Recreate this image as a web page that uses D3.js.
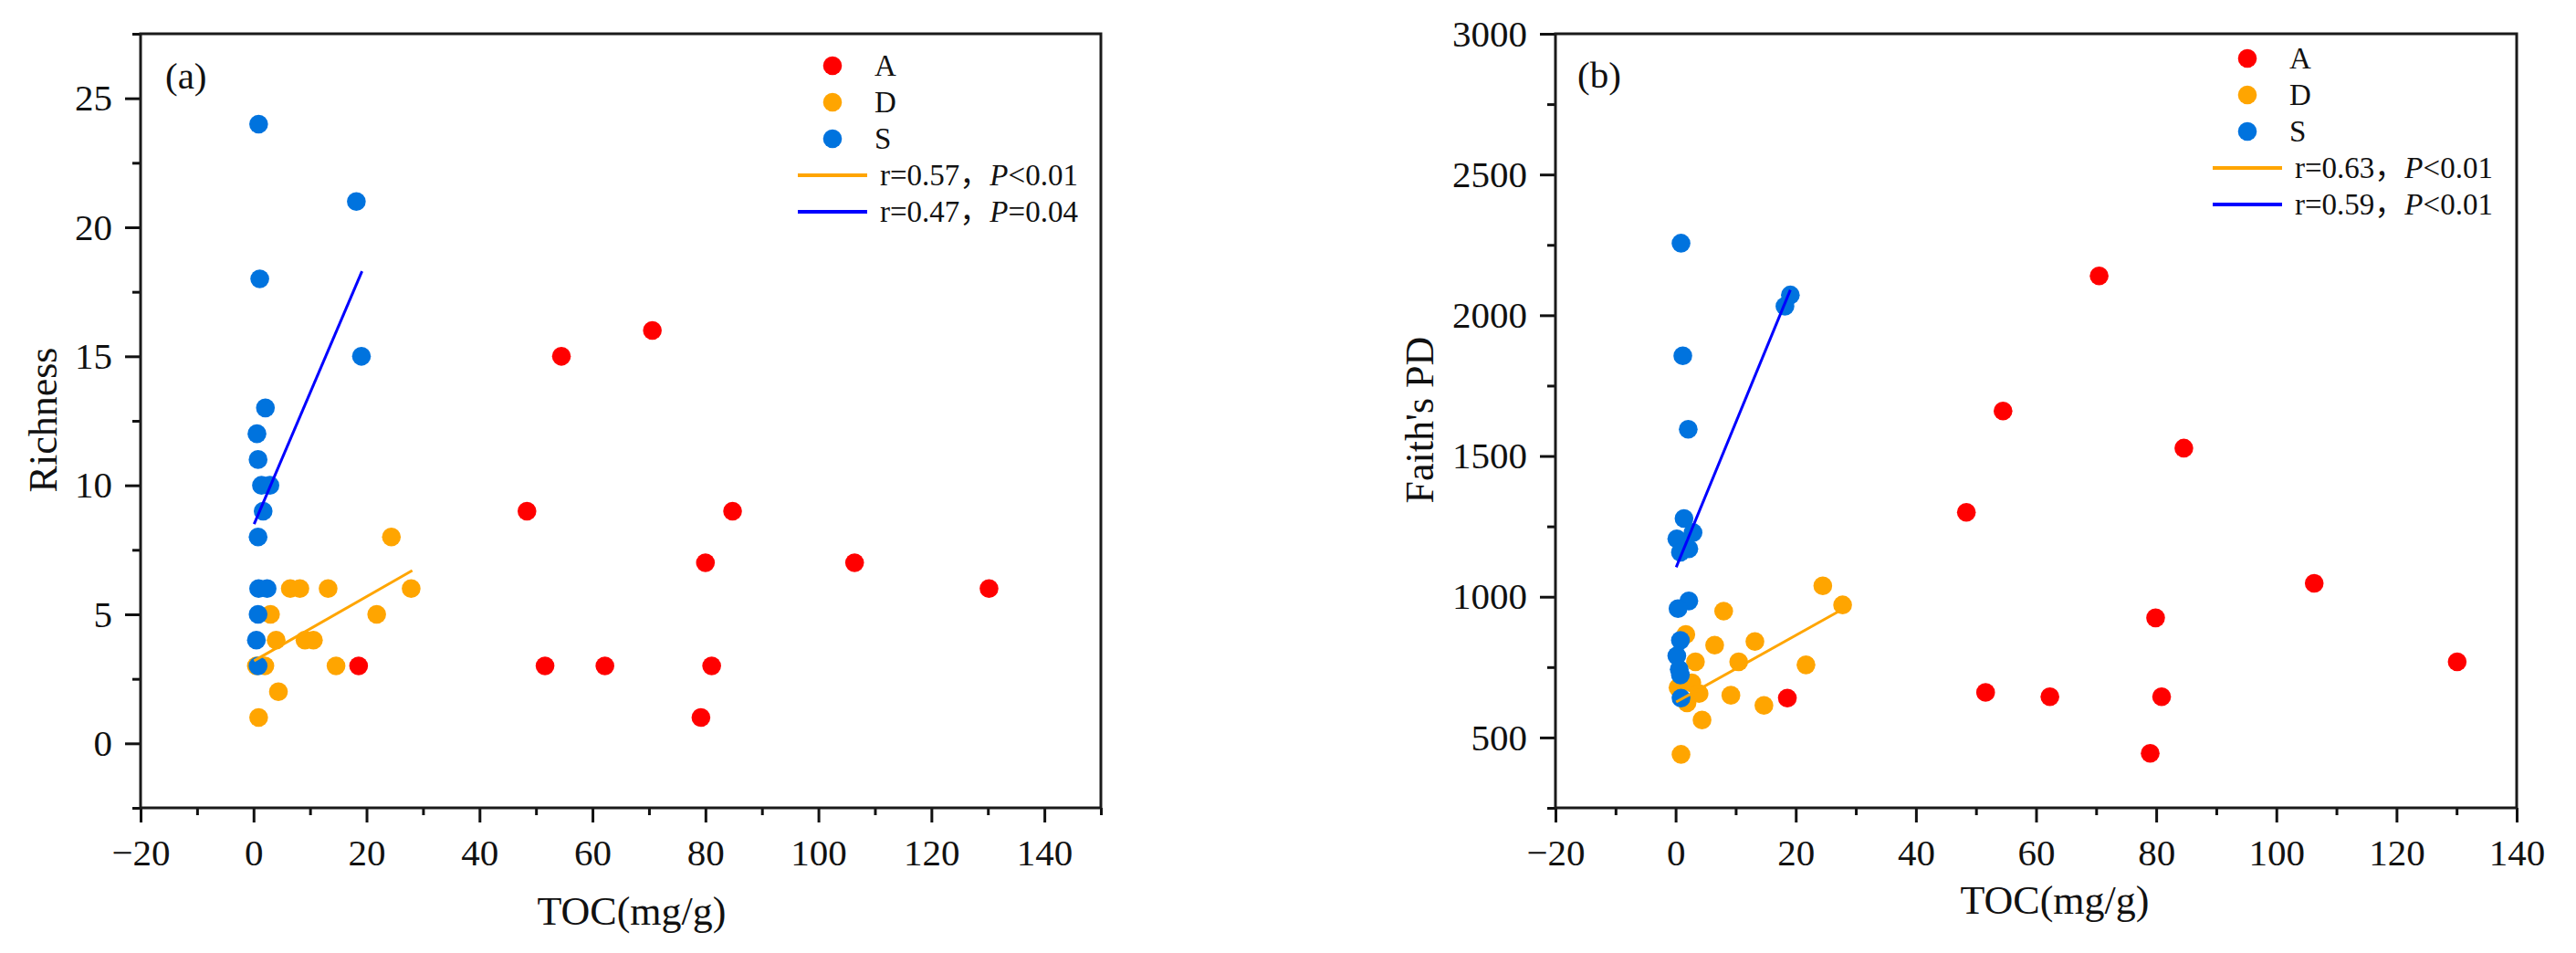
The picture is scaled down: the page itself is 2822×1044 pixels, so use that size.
<!DOCTYPE html>
<html>
<head>
<meta charset="utf-8">
<script src="https://cdn.jsdelivr.net/npm/d3@7"></script>
<style>
  html, body { margin: 0; padding: 0; background: #fff; }
  svg text { font-family: "Liberation Serif", "Times New Roman", "Noto Sans CJK SC", serif; fill: #111; }
</style>
</head>
<body>
<div id="chart"></div>
<script>
// points are [TOC (mg/g), value]
const richnessA = [[18.6, 3], [48.4, 9], [51.6, 3], [54.5, 15], [62.2, 3], [70.6, 16], [79.2, 1], [80.0, 7], [81.1, 3], [84.8, 9], [106.4, 7], [130.2, 6]];
const richnessD = [[0.5, 3], [2.0, 3], [0.9, 1], [4.4, 2], [3.0, 5], [4.0, 4], [9.1, 4], [10.6, 4], [14.6, 3], [6.5, 6], [8.2, 6], [13.2, 6], [27.9, 6], [21.8, 5], [24.4, 8]];
const richnessS = [[0.9, 24], [18.2, 21], [1.1, 18], [19.1, 15], [2.1, 13], [0.6, 12], [0.8, 11], [1.4, 10], [2.9, 10], [1.7, 9], [0.8, 8], [0.9, 6], [2.4, 6], [0.8, 5], [0.5, 4], [0.8, 3]];
const richnessFitD = [[0.1, 3.2], [28.1, 6.7]];
const richnessFitS = [[0.1, 8.5], [19.2, 18.3]];

const pdA = [[18.6, 640], [48.4, 1300], [51.6, 660], [54.5, 1660], [62.3, 645], [70.5, 2140], [79.0, 444], [79.9, 925], [80.9, 645], [84.6, 1528], [106.3, 1048], [130.1, 769]];
const pdD = [[24.5, 1039], [27.8, 971], [8.0, 949], [1.7, 866], [6.5, 828], [13.2, 841], [3.3, 769], [10.5, 769], [21.7, 758], [2.7, 694], [0.4, 677], [3.9, 656], [9.2, 650], [1.9, 623], [14.7, 614], [4.4, 562], [0.9, 440]];
const pdS = [[0.9, 2256], [1.2, 1856], [2.1, 1595], [19.1, 2072], [18.2, 2032], [1.4, 1278], [2.9, 1228], [0.2, 1206], [2.2, 1170], [0.8, 1158], [2.2, 985], [0.4, 958], [0.8, 845], [0.2, 790], [0.6, 742], [0.8, 722], [0.9, 640]];
const pdFitD = [[0.1, 626], [27.9, 957]];
const pdFitS = [[0.1, 1105], [19.1, 2090]];

const groups = ['A', 'D', 'S'];
const groupColors = ['#ff0000', '#ffa500', '#0073de'];
const fitColors = ['#ffa500', '#0000ff'];
const richnessFitLabels = [['r=0.57，', 'P', '<0.01'], ['r=0.47，', 'P', '=0.04']];
const pdFitLabels = [['r=0.63，', 'P', '<0.01'], ['r=0.59，', 'P', '<0.01']];

const tocTicks = [-20, 0, 20, 40, 60, 80, 100, 120, 140];
const tocMinorA = [-10, 10, 30, 50, 70, 90, 110, 130, 150];
const tocMinorB = [-10, 10, 30, 50, 70, 90, 110, 130];
const richnessTicks = [0, 5, 10, 15, 20, 25];
const richnessMinor = [-2.5, 2.5, 7.5, 12.5, 17.5, 22.5, 27.5];
const pdTicks = [500, 1000, 1500, 2000, 2500, 3000];
const pdMinor = [250, 750, 1250, 1750, 2250, 2750];

const svg = d3.select('#chart').append('svg')
  .attr('width', 2822)
  .attr('height', 1044);

svg.append('rect').attr('width', 2822).attr('height', 1044).attr('fill', '#fff');

const panels = [
  {
    left: 154, right: 1206, top: 37, bottom: 885,
    xDomain: [-20, 150], yDomain: [-2.5, 27.5],
    xTicks: tocTicks, xMinor: tocMinorA, yTicks: richnessTicks, yMinor: richnessMinor,
    series: [richnessA, richnessD, richnessS], fits: [richnessFitD, richnessFitS], fitLabels: richnessFitLabels,
    tag: '(a)', tagX: 181, tagY: 97,
    xTitle: 'TOC(mg/g)', xTitleX: 692, xTitleY: 1013,
    yTitle: 'Richness', yTitleX: 62, yTitleY: 460,
    legendX: 912, legendY: 72
  },
  {
    left: 1704, right: 2757, top: 37, bottom: 885,
    xDomain: [-20, 140], yDomain: [250, 3000],
    xTicks: tocTicks, xMinor: tocMinorB, yTicks: pdTicks, yMinor: pdMinor,
    series: [pdA, pdD, pdS], fits: [pdFitD, pdFitS], fitLabels: pdFitLabels,
    tag: '(b)', tagX: 1728, tagY: 96,
    xTitle: 'TOC(mg/g)', xTitleX: 2251, xTitleY: 1001,
    yTitle: "Faith's PD", yTitleX: 1570, yTitleY: 460,
    legendX: 2462, legendY: 64
  }
];

function styleAxis(sel) {
  sel.select('.domain').remove();
  sel.selectAll('.tick line').attr('stroke', '#111').attr('stroke-width', 3);
  sel.selectAll('.tick text').style('font-size', '41px').attr('fill', '#111');
}

function drawPanel(p) {
  const x = d3.scaleLinear().domain(p.xDomain).range([p.left, p.right]);
  const y = d3.scaleLinear().domain(p.yDomain).range([p.bottom, p.top]);
  const g = svg.append('g');

  // minor ticks
  g.append('g')
    .attr('transform', `translate(0,${p.bottom})`)
    .call(d3.axisBottom(x).tickValues(p.xMinor).tickSize(8).tickSizeOuter(0).tickFormat(''))
    .call(styleAxis);
  g.append('g')
    .attr('transform', `translate(${p.left},0)`)
    .call(d3.axisLeft(y).tickValues(p.yMinor).tickSize(9).tickSizeOuter(0).tickFormat(''))
    .call(styleAxis);

  // major ticks
  g.append('g')
    .attr('transform', `translate(0,${p.bottom})`)
    .call(d3.axisBottom(x).tickValues(p.xTicks).tickSize(16).tickPadding(18).tickSizeOuter(0).tickFormat(d3.format('d')))
    .call(styleAxis);
  g.append('g')
    .attr('transform', `translate(${p.left},0)`)
    .call(d3.axisLeft(y).tickValues(p.yTicks).tickSize(17).tickPadding(14).tickSizeOuter(0).tickFormat(d3.format('d')))
    .call(styleAxis);

  // frame
  g.append('rect')
    .attr('x', p.left)
    .attr('y', p.top)
    .attr('width', p.right - p.left)
    .attr('height', p.bottom - p.top)
    .attr('fill', 'none')
    .attr('stroke', '#1a1a1a')
    .attr('stroke-width', 3);

  // points
  p.series.forEach((pts, i) => {
    g.selectAll(null)
      .data(pts)
      .enter().append('circle')
      .attr('cx', d => x(d[0]))
      .attr('cy', d => y(d[1]))
      .attr('r', 10.3)
      .attr('fill', groupColors[i]);
  });

  // fit lines
  const line = d3.line().x(d => x(d[0])).y(d => y(d[1]));
  p.fits.forEach((f, i) => {
    g.append('path')
      .attr('d', line(f))
      .attr('fill', 'none')
      .attr('stroke', fitColors[i])
      .attr('stroke-width', 3);
  });

  // legend
  const lg = g.append('g');
  groups.forEach((name, i) => {
    const ly = p.legendY + i * 40;
    lg.append('circle')
      .attr('cx', p.legendX)
      .attr('cy', ly)
      .attr('r', 10.3)
      .attr('fill', groupColors[i]);
    lg.append('text')
      .attr('x', p.legendX + 46)
      .attr('y', ly + 11)
      .style('font-size', '33px')
      .text(name);
  });
  p.fitLabels.forEach((lab, j) => {
    const ly = p.legendY + (3 + j) * 40;
    lg.append('line')
      .attr('x1', p.legendX - 38)
      .attr('x2', p.legendX + 38)
      .attr('y1', ly)
      .attr('y2', ly)
      .attr('stroke', fitColors[j])
      .attr('stroke-width', 4);
    const t = lg.append('text')
      .attr('x', p.legendX + 52)
      .attr('y', ly + 11)
      .style('font-size', '33px');
    t.append('tspan').text(lab[0]);
    t.append('tspan').style('font-style', 'italic').text(lab[1]);
    t.append('tspan').text(lab[2]);
  });

  // labels
  g.append('text')
    .attr('x', p.tagX)
    .attr('y', p.tagY)
    .style('font-size', '41px')
    .text(p.tag);

  g.append('text')
    .attr('x', p.xTitleX)
    .attr('y', p.xTitleY)
    .attr('text-anchor', 'middle')
    .style('font-size', '44px')
    .text(p.xTitle);

  g.append('text')
    .attr('transform', `translate(${p.yTitleX},${p.yTitleY}) rotate(-90)`)
    .attr('text-anchor', 'middle')
    .style('font-size', '44px')
    .text(p.yTitle);
}

panels.forEach(drawPanel);
</script>
</body>
</html>
